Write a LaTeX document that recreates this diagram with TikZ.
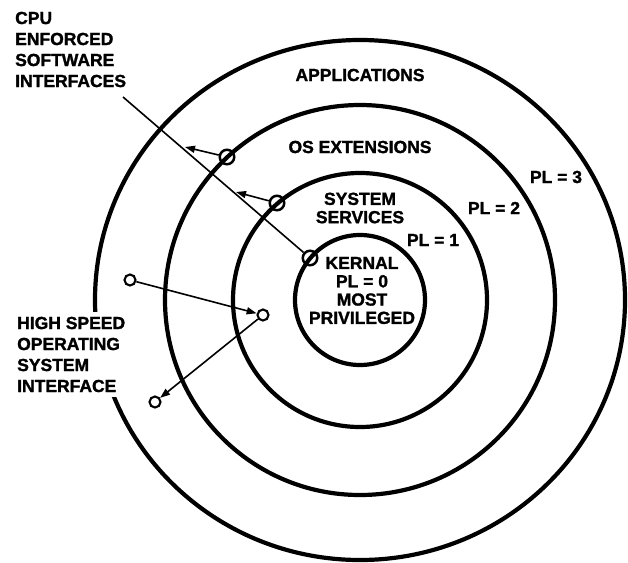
\documentclass[tikz,border=0pt]{standalone}
\usepackage{fontspec}
\setmainfont{Liberation Sans}
\newfontfamily\lblfont{Liberation Sans Bold}[FakeBold=1.5]
\usetikzlibrary{arrows.meta}
\begin{document}
\begin{tikzpicture}[x=1pt,y=-1pt,
  ring/.style={line width=4.2pt},
  lbl/.style={font=\lblfont\fontsize{17.5}{21}\selectfont, inner sep=0pt, align=left},
  ctr/.style={font=\lblfont\fontsize{17.5}{18.3}\selectfont, inner sep=0pt, align=center},
  port/.style={circle, draw, line width=2.5pt, minimum size=14.5pt, inner sep=0pt},
  sport/.style={circle, draw, line width=2.1pt, minimum size=11pt, inner sep=0pt},
  conn/.style={line width=1.6pt},
  arr/.style={conn, -{Triangle[length=10pt,width=7pt]}}]
\useasboundingbox (0,0) rectangle (628,562);
\coordinate (c) at (360,300);
% rings
\draw[ring] (c) ellipse [x radius=265, y radius=260];
\draw[ring] (c) circle [radius=195];
\draw[ring] (c) circle [radius=127];
\draw[ring] (c) circle [radius=65];
% labels
\node[lbl, anchor=west] (cpu) at (15,49.5) {CPU\\ENFORCED\\SOFTWARE\\INTERFACES};
\node[lbl, anchor=west, fill=white, inner sep=5pt] (hs) at (12,354.5) {HIGH SPEED\\OPERATING\\SYSTEM\\INTERFACE};
\node[ctr] (app) at (360,75) {APPLICATIONS};
\node[ctr] (ose) at (360,147) {OS EXTENSIONS};
\node[ctr] (sys) at (360,208) {SYSTEM\\SERVICES};
\node[ctr] (ker) at (362,290.5) {KERNAL\\PL = 0\\MOST\\PRIVILEGED};
\node[ctr] (pl1) at (433,240) {PL = 1};
\node[ctr] (pl2) at (494,208) {PL = 2};
\node[ctr] (pl3) at (556,177) {PL = 3};
% interface markers
\node[port] (m2) at (227,157) {};
\node[port] (m3) at (277,203) {};
\node[port] (m1) at (310,258) {};
\node[sport] (m4) at (263,315) {};
\node[sport] (s1) at (130,280) {};
\node[sport] (s2) at (155,402) {};
% connectors
\coordinate (cpuend) at (123,97);
\coordinate (t2) at (185,147);
\coordinate (t3) at (236,192);
\draw[conn] (cpuend) -- (m1);
\draw[arr] (m2) -- (t2);
\draw[arr] (m3) -- (t3);
\draw[arr] (s1) -- (m4);
\draw[arr] (m4) -- (s2);
\end{tikzpicture}
\end{document}
